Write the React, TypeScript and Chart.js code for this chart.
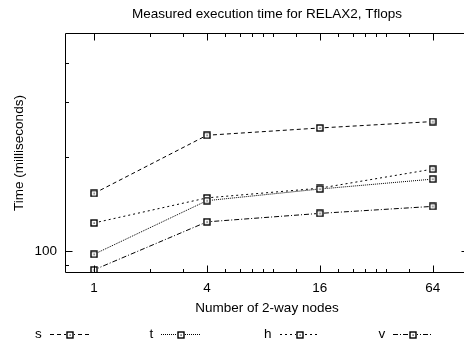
import React, { useEffect, useRef } from "react";
import { Chart, registerables } from "chart.js";

Chart.register(...registerables);

const nodes = [1, 4, 16, 64];
const sTimes = [153, 235, 248, 260];
const tTimes = [97.6, 145, 158, 170];
const hTimes = [123, 148, 159, 183];
const vTimes = [87, 124, 132, 139];
const seriesNames = ["s", "t", "h", "v"];

const xTickValues = [1, 2, 3, 4, 5, 6, 7, 8, 9, 12, 16, 20, 24, 28, 32, 36, 48, 64];
const xMajorTicks = [1, 4, 16, 64];
const yTickValues = [90, 100, 200, 300, 400];
const yMajorTicks = [100];

const FONT = "'Liberation Sans', Arial, Helvetica, sans-serif";
const FS = 13.5;

function makeMarker(): HTMLCanvasElement {
  const c = document.createElement("canvas");
  c.width = 8;
  c.height = 8;
  const g = c.getContext("2d")!;
  g.fillStyle = "#fff";
  g.fillRect(0, 0, 8, 8);
  g.strokeStyle = "#000";
  g.lineWidth = 1.4;
  g.strokeRect(1, 1, 6, 6);
  g.fillStyle = "#000";
  g.fillRect(3.5, 3.5, 1.2, 1.2);
  return c;
}

const framePlugin = {
  id: "frame",
  afterDatasetsDraw(chart: any) {
    const { ctx, chartArea: a, scales } = chart;
    ctx.save();
    ctx.strokeStyle = "#000";
    ctx.lineWidth = 1;
    ctx.setLineDash([]);
    const L = Math.round(a.left) + 0.5;
    const R = Math.round(a.right) - 0.5;
    const T = Math.round(a.top) + 0.5;
    const B = Math.round(a.bottom) - 0.5;
    ctx.beginPath();
    ctx.rect(L, T, R - L, B - T);
    ctx.stroke();
    ctx.beginPath();
    xTickValues.forEach((v) => {
      const px = Math.round(scales.x.getPixelForValue(v)) + 0.5;
      const len = xMajorTicks.includes(v) ? 7 : 3.5;
      ctx.moveTo(px, B);
      ctx.lineTo(px, B - len);
      ctx.moveTo(px, T);
      ctx.lineTo(px, T + len);
    });
    yTickValues.forEach((v) => {
      const py = Math.round(scales.y.getPixelForValue(v)) + 0.5;
      const len = yMajorTicks.includes(v) ? 7 : 3.5;
      ctx.moveTo(L, py);
      ctx.lineTo(L + len, py);
      ctx.moveTo(R, py);
      ctx.lineTo(R - len, py);
    });
    ctx.stroke();
    ctx.restore();
  },
};

const legendPlugin = {
  id: "gpLegend",
  afterDraw(chart: any) {
    const { ctx } = chart;
    const y = 334.5;
    const startX = 35;
    const step = 114.5;
    ctx.save();
    ctx.font = `${FS}px ${FONT}`;
    ctx.textBaseline = "middle";
    ctx.textAlign = "left";
    chart.data.datasets.forEach((ds: any, i: number) => {
      const tx = startX + i * step;
      ctx.fillStyle = "#000";
      ctx.fillText(ds.label, tx, y);
      const w = ctx.measureText(ds.label).width;
      const x0 = Math.round(tx + w + 8);
      const x1 = x0 + 40;
      ctx.strokeStyle = "#000";
      ctx.lineWidth = 1;
      ctx.setLineDash(ds.borderDash || []);
      ctx.beginPath();
      ctx.moveTo(x0, y);
      ctx.lineTo(x1, y);
      ctx.stroke();
      ctx.setLineDash([]);
      const img = ds.pointStyle as HTMLCanvasElement;
      ctx.drawImage(img, Math.round((x0 + x1) / 2 - img.width / 2), Math.round(y - img.height / 2));
    });
    ctx.restore();
  },
};

export default function App() {
  const ref = useRef<HTMLCanvasElement>(null);

  useEffect(() => {
    if (!ref.current) return;
    const marker = makeMarker();
    const dashes = [[4, 3], [1, 1], [2, 3], [5, 2, 1, 2]];
    const values = [sTimes, tTimes, hTimes, vTimes];
    const chart = new Chart(ref.current, {
      type: "line",
      data: {
        datasets: seriesNames.map((name, i) => ({
          label: name,
          data: nodes.map((n, j) => ({ x: n, y: values[i][j] })),
          borderColor: "#000",
          borderWidth: 1,
          borderDash: dashes[i],
          pointStyle: marker as any,
          pointRadius: 4,
          tension: 0,
          fill: false,
        })),
      },
      options: {
        animation: false,
        responsive: false,
        devicePixelRatio: 1,
        layout: { padding: { left: 0, top: 0, right: 1, bottom: 0 } },
        font: { family: FONT, size: FS },
        plugins: {
          legend: { display: false },
          tooltip: { enabled: false },
          title: {
            display: true,
            fullSize: false,
            text: "Measured execution time for RELAX2, Tflops",
            color: "#000",
            font: { family: FONT, size: FS, weight: "normal" },
            padding: { top: 6, bottom: 10.8 },
          },
        },
        scales: {
          x: {
            type: "logarithmic",
            position: "bottom",
            min: 0.7,
            max: 100,
            grid: { display: false, drawTicks: false },
            border: { display: false },
            afterBuildTicks: (s: any) => {
              s.ticks = xTickValues.map((v) => ({ value: v }));
            },
            afterFit: (s: any) => {
              s.height = 74;
              s.paddingLeft = 0;
              s.paddingRight = 0;
            },
            ticks: {
              autoSkip: false,
              maxRotation: 0,
              padding: 7,
              color: "#000",
              font: { family: FONT, size: FS },
              callback: (v: any) => (xMajorTicks.includes(Number(v)) ? String(v) : ""),
            },
            title: {
              display: true,
              text: "Number of 2-way nodes",
              color: "#000",
              font: { family: FONT, size: FS },
              padding: { top: 0, bottom: 31 },
            },
          },
          y: {
            type: "logarithmic",
            position: "left",
            min: 85,
            max: 500,
            grid: { display: false, drawTicks: false },
            border: { display: false },
            afterBuildTicks: (s: any) => {
              s.ticks = yTickValues.map((v) => ({ value: v }));
            },
            afterFit: (s: any) => {
              s.width = 65;
              s.paddingTop = 0;
              s.paddingBottom = 0;
            },
            ticks: {
              autoSkip: false,
              padding: 8,
              color: "#000",
              font: { family: FONT, size: FS },
              callback: (v: any) => (yMajorTicks.includes(Number(v)) ? String(v) : ""),
            },
            title: {
              display: true,
              text: "Time (milliseconds)",
              color: "#000",
              font: { family: FONT, size: FS },
              padding: { top: 11, bottom: 0 },
            },
          },
        },
      } as any,
      plugins: [framePlugin, legendPlugin],
    });
    return () => chart.destroy();
  }, []);

  return (
    <div
      style={{
        position: "fixed",
        left: 0,
        top: 0,
        width: 464,
        height: 347,
        overflow: "hidden",
        background: "#fff",
      }}
    >
      <canvas ref={ref} width={474} height={347} style={{ width: 474, height: 347, display: "block" }} />
    </div>
  );
}
